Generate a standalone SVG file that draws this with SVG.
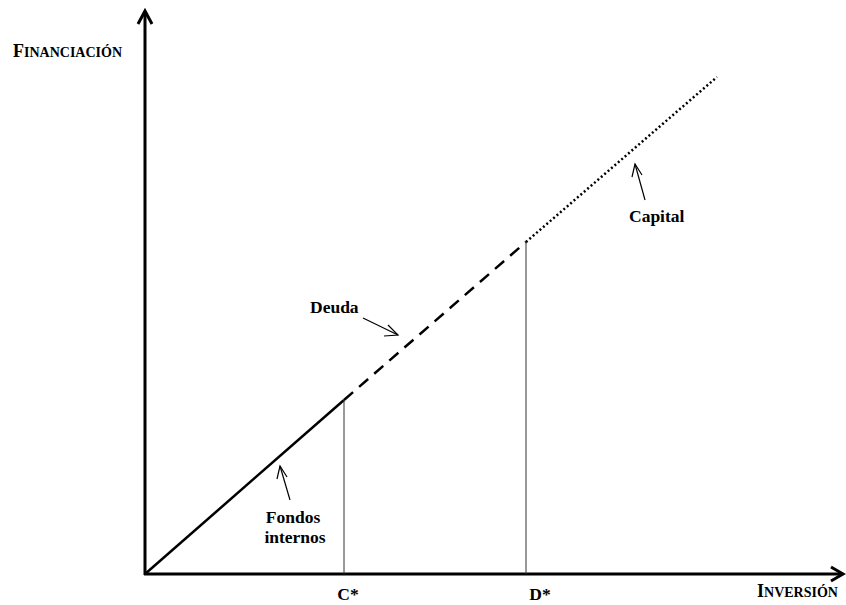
<svg xmlns="http://www.w3.org/2000/svg" width="846" height="605" viewBox="0 0 846 605">
<style>
.lbl{font-family:"Liberation Serif","Times New Roman",serif;font-weight:bold;fill:#000;font-size:17.5px}
.ax{stroke:#000;stroke-width:3;fill:none}
.thin{stroke:#333;stroke-width:1;fill:none}
.ann{stroke:#000;stroke-width:1.2;fill:none}
</style>
<rect width="846" height="605" fill="#fff"/>
<g id="axes">
<line class="ax" x1="145" y1="575" x2="145" y2="12"/>
<polyline class="ax" points="138,24 145,11 152,24"/>
<line class="ax" x1="144" y1="574" x2="842" y2="574"/>
<polyline class="ax" points="831,567 843,574 831,581"/>
</g>
<g id="connectors">
<line x1="145" y1="574" x2="344" y2="400" stroke="#000" stroke-width="2.5"/>
<line x1="344" y1="400" x2="526" y2="242" stroke="#000" stroke-width="2.5" stroke-dasharray="12,8"/>
<line x1="526" y1="242" x2="717" y2="77" stroke="#000" stroke-width="2.5" stroke-dasharray="2,2.5"/>
<line class="thin" x1="344" y1="400" x2="344" y2="574"/>
<line class="thin" x1="526" y1="242" x2="526" y2="574"/>
<line class="ann" x1="363" y1="318" x2="398" y2="335"/>
<polyline class="ann" points="388,325 398,335 384,336"/>
<line class="ann" x1="645" y1="200" x2="635" y2="164"/>
<polyline class="ann" points="632,177 635,164 642,175"/>
<line class="ann" x1="290" y1="500" x2="280" y2="466"/>
<polyline class="ann" points="277,479 280,466 287,477"/>
</g>
<g id="label-financiacion"><text class="lbl" x="13" y="57"><tspan font-size="18">F</tspan><tspan font-size="14">INANCIACIÓN</tspan></text></g>
<g id="label-inversion"><text class="lbl" x="757" y="597"><tspan font-size="18">I</tspan><tspan font-size="14">NVERSIÓN</tspan></text></g>
<g id="label-c"><text class="lbl" x="348" y="600" text-anchor="middle">C*</text></g>
<g id="label-d"><text class="lbl" x="540" y="600" text-anchor="middle">D*</text></g>
<g id="label-deuda"><text class="lbl" x="310" y="313">Deuda</text></g>
<g id="label-capital"><text class="lbl" x="629" y="222">Capital</text></g>
<g id="label-fondos"><text class="lbl" x="293" y="523" text-anchor="middle">Fondos</text><text class="lbl" x="295" y="543" text-anchor="middle">internos</text></g>
</svg>
